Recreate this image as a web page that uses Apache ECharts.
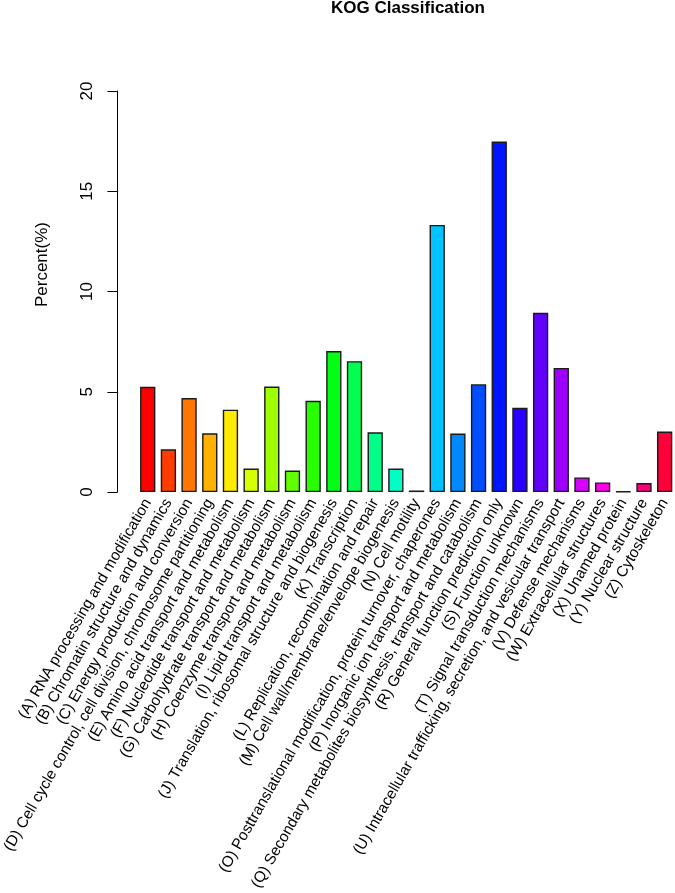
<!DOCTYPE html>
<html>
<head>
<meta charset="utf-8">
<script src="https://cdn.jsdelivr.net/npm/echarts@6/dist/echarts.min.js"></script>
<style>
html,body{margin:0;padding:0;background:#fff;}
#chart{width:675px;height:893px;}
</style>
</head>
<body>
<div id="chart"></div>
<script>
const categories = [
  "(A) RNA processing and modification",
  "(B) Chromatin structure and dynamics",
  "(C) Energy production and conversion",
  "(D) Cell cycle control, cell division, chromosome partitioning",
  "(E) Amino acid transport and metabolism",
  "(F) Nucleotide transport and metabolism",
  "(G) Carbohydrate transport and metabolism",
  "(H) Coenzyme transport and metabolism",
  "(I) Lipid transport and metabolism",
  "(J) Translation, ribosomal structure and biogenesis",
  "(K) Transcription",
  "(L) Replication, recombination and repair",
  "(M) Cell wall/membrane/envelope biogenesis",
  "(N) Cell motility",
  "(O) Posttranslational modification, protein turnover, chaperones",
  "(P) Inorganic ion transport and metabolism",
  "(Q) Secondary metabolites biosynthesis, transport and catabolism",
  "(R) General function prediction only",
  "(S) Function unknown",
  "(T) Signal transduction mechanisms",
  "(U) Intracellular trafficking, secretion, and vesicular transport",
  "(V) Defense mechanisms",
  "(W) Extracellular structures",
  "(X) Unamed protein",
  "(Y) Nuclear structure",
  "(Z) Cytoskeleton"
];
const percentValues = [5.25, 2.13, 4.69, 2.93, 4.11, 1.17, 5.26, 1.07, 4.55, 7.03, 6.53, 2.98, 1.17, 0.08, 13.32, 2.92, 5.38, 17.48, 4.21, 8.94, 6.19, 0.73, 0.48, 0.03, 0.45, 3.02];
const barColors = ["#FF0000","#FF3B00","#FF7600","#FFB100","#FFEB00","#D8FF00","#9DFF00","#62FF00","#27FF00","#00FF14","#00FF4E","#00FF89","#00FFC4","#00FFFF","#00C4FF","#0089FF","#004EFF","#0014FF","#2700FF","#6200FF","#9D00FF","#D800FF","#FF00EB","#FF00B1","#FF0076","#FF003B"];
const yTicks = [0, 5, 10, 15, 20];

const FONT = "Liberation Sans";
const chart = echarts.init(document.getElementById('chart'), null, {renderer: 'canvas'});
chart.setOption({
  backgroundColor: '#ffffff',
  animation: false,
  title: {
    text: 'KOG Classification',
    left: 331, top: 0, padding: 0,
    textStyle: {fontFamily: FONT, fontSize: 17, fontWeight: 'bold', color: '#000'}
  },
  grid: {left: 137, right: -1, top: 91, bottom: 398, containLabel: false},
  xAxis: {
    type: 'category',
    data: categories,
    axisLine: {show: false},
    axisTick: {show: false},
    axisLabel: {
      interval: 0, rotate: 60, margin: 8,
      fontFamily: FONT, fontSize: 15.3, color: '#000'
    }
  },
  yAxis: {
    type: 'value',
    min: yTicks[0], max: yTicks[yTicks.length - 1], interval: 5,
    offset: 20,
    name: 'Percent(%)',
    nameLocation: 'middle',
    nameRotate: 90,
    nameGap: 67,
    nameTextStyle: {fontFamily: FONT, fontSize: 17, color: '#000', padding: [0, 0, 0, 54]},
    axisLine: {show: true, lineStyle: {color: '#000', width: 1}},
    axisTick: {show: true, length: 10, lineStyle: {color: '#000', width: 1}},
    splitLine: {show: false},
    axisLabel: {rotate: 90, margin: 22, fontFamily: FONT, fontSize: 17, color: '#000'}
  },
  series: [{
    type: 'bar',
    barWidth: 15.3,
    data: percentValues.map((v, i) => ({
      value: v,
      itemStyle: {color: barColors[i], borderColor: '#1a1a1a', borderWidth: 1.4}
    }))
  }]
});
</script>
</body>
</html>
